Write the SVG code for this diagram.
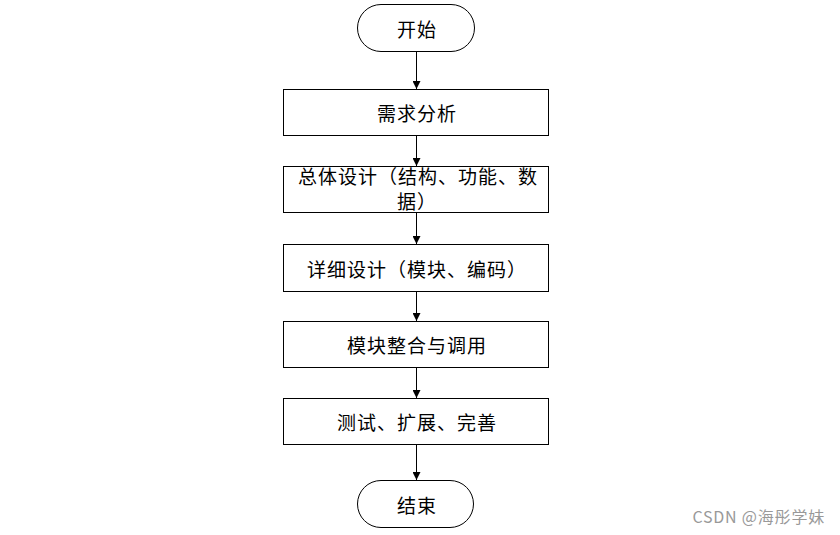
<svg xmlns="http://www.w3.org/2000/svg" width="840" height="535" viewBox="0 0 840 535">
<defs>
<marker id="arr" viewBox="0 0 10 10" refX="10" refY="5" markerWidth="8" markerHeight="8" markerUnits="userSpaceOnUse" orient="auto">
<path d="M0,0 L10,5 L0,10 z" fill="#000"/>
</marker>
<style>
.box{fill:#fff;stroke:#000;stroke-width:1}
.t{font-family:"Noto Sans CJK SC","Liberation Sans",sans-serif;font-size:19px;letter-spacing:1px;fill:#000;text-anchor:middle;dominant-baseline:central}
.c{stroke:#000;stroke-width:1;fill:none;marker-end:url(#arr)}
</style>
</defs>
<rect width="840" height="535" fill="#fff"/>
<g id="start"><rect class="box" x="357.5" y="4.5" width="117" height="47" rx="23.5"/><text class="t" x="417" y="28">开始</text></g>
<g id="n1"><rect class="box" x="283.5" y="89.5" width="265" height="46"/><text class="t" x="417" y="112">需求分析</text></g>
<g id="n2"><rect class="box" x="283.5" y="166.5" width="265" height="46"/><text class="t" x="418" y="175">总体设计（结构、功能、数</text><text class="t" x="417" y="200">据）</text></g>
<g id="n3"><rect class="box" x="283.5" y="244.5" width="265" height="47"/><text class="t" x="417" y="268">详细设计（模块、编码）</text></g>
<g id="n4"><rect class="box" x="283.5" y="321.5" width="265" height="46"/><text class="t" x="417" y="344">模块整合与调用</text></g>
<g id="n5"><rect class="box" x="283.5" y="398.5" width="265" height="46"/><text class="t" x="417" y="421">测试、扩展、完善</text></g>
<g id="end"><rect class="box" x="357.5" y="480.5" width="116" height="47" rx="23.5"/><text class="t" x="417" y="504">结束</text></g>
<g id="connectors">
<line class="c" x1="416.5" y1="52" x2="416.5" y2="89"/>
<line class="c" x1="416.5" y1="136" x2="416.5" y2="166"/>
<line class="c" x1="416.5" y1="213" x2="416.5" y2="244"/>
<line class="c" x1="416.5" y1="292" x2="416.5" y2="321"/>
<line class="c" x1="416.5" y1="368" x2="416.5" y2="398"/>
<line class="c" x1="416.5" y1="445" x2="416.5" y2="480"/>
</g>
<text x="825" y="523" style="font-family:'Noto Sans CJK SC','Liberation Sans',sans-serif;font-size:16px;letter-spacing:0.8px;fill:#999;text-anchor:end">CSDN @海彤学妹</text>
</svg>
